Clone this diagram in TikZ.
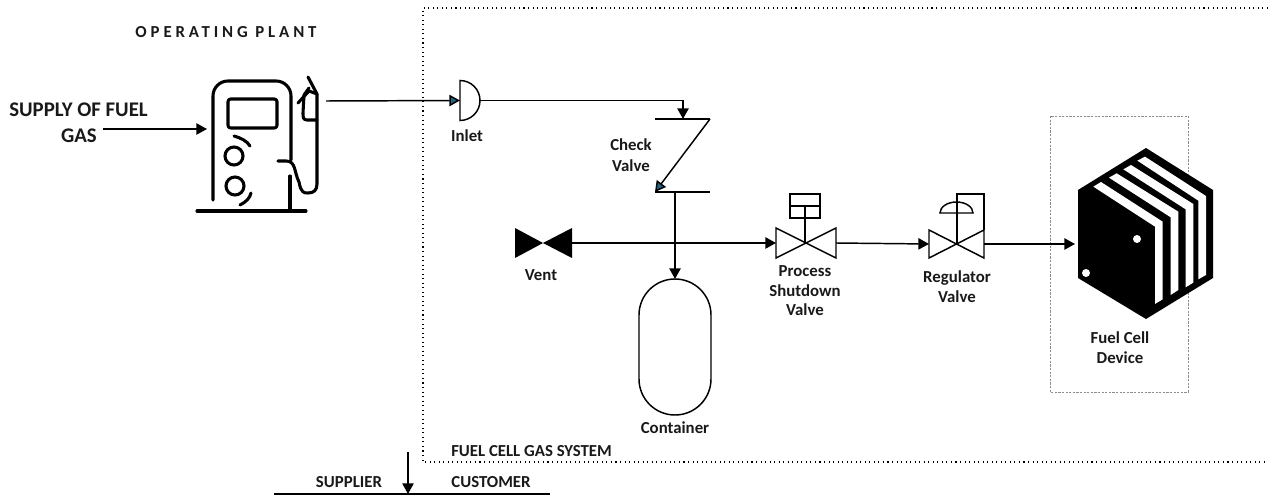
\documentclass[tikz,border=0pt]{standalone}
\usepackage{fontspec}
\setmainfont{Carlito}
\usetikzlibrary{arrows.meta}
\definecolor{tipblue}{RGB}{31,100,135}
\tikzset{
  x=0.75pt,y=-0.75pt,
  lbl/.style={font=\bfseries\fontsize{12.6}{14}\selectfont,inner sep=0pt,text=black!90},
  biglbl/.style={font=\bfseries\fontsize{15.6}{18}\selectfont,inner sep=0pt,text=black!90},
  pipe/.style={draw=black,line width=1.1pt},
  flow/.style={pipe,-{Triangle[length=8pt,width=8.5pt]}},
  blueflow/.style={pipe,-{Triangle[length=8pt,width=8.5pt,fill=tipblue]}},
  sym/.style={draw=black,line width=1.1pt,line join=miter},
  pump/.style={draw=black,line width=2.3pt,line cap=round,line join=round},
  dots/.style={draw=black,line width=.8pt,dash pattern=on .8pt off 2.6pt},
}
\begin{document}
\begin{tikzpicture}
\useasboundingbox (0,0) rectangle (1268,495);
% system boundary
\draw[dots] (1268,8) -- (423,8) -- (423,462) -- (1268,462);
\draw[draw=black!45,line width=.7pt,dash pattern=on 1.6pt off 1.1pt] (1050,116) rectangle (1188,392);
% pump
\draw[pump] (213,200) -- (213,96) arc[start angle=180,end angle=270,radius=15] -- (276,81) arc[start angle=270,end angle=360,radius=15] -- (291,160);
\draw[pump,rounded corners=2pt] (228,99) rectangle (277,128);
\draw[pump] (234,156) circle[radius=9];
\draw[pump] (235,186) circle[radius=9];
\draw[pump] (234,136) .. controls (241,138) and (247,141) .. (250,146);
\draw[pump] (240,205) .. controls (246,202) and (250,198) .. (251,193);
\draw[pump] (197,211) -- (306,211);
\draw[pump] (290,176) -- (290,211);
\draw[pump] (278,161) -- (286,161) .. controls (296,161) and (294,172) .. (299,182) .. controls (301,193) and (304,193) .. (308,193) .. controls (314,193) and (317,190) .. (317,184) -- (317,94) -- (308,77);
\draw[pump] (317,120) -- (307,120) .. controls (303,120) and (303,117) .. (303,113) -- (304,95) -- (309,88) ;
\draw[pump] (298,103) -- (309,91) -- (317,94);
% fuel cell stack
\fill[black] (1146,148) -- (1213,190) -- (1213,278) -- (1146,319) -- (1078,278) -- (1078,190) -- cycle;
\begin{scope}[shift={(1040,130)},x=0.25pt,y=-0.25pt]
\fill[white] (160,170) -- (183,156) -- (368,275) -- (368,508) -- (345,522) -- (345,290) -- cycle;
\fill[white] (207,143) -- (230,130) -- (415,245) -- (415,480) -- (392,495) -- (392,262) -- cycle;
\fill[white] (250,118) -- (273,105) -- (460,222) -- (460,458) -- (437,472) -- (437,238) -- cycle;
\fill[white] (292,92) -- (315,80) -- (498,198) -- (498,435) -- (475,448) -- (475,212) -- cycle;
\end{scope}
\fill[white] (1137,239) circle[radius=4];
\fill[white] (1086,273) circle[radius=4];
\coordinate (stack) at (1075,244);
% inlet
\draw[sym] (460,80.5) arc[start angle=-90,end angle=90,radius=20] -- cycle;
\coordinate (inletW) at (460,100.5);
\coordinate (inletE) at (480,100.5);
\coordinate (pumpout) at (326,101);
% check valve
\draw[sym] (655,119) -- (710,119);
\draw[sym] (655,192) -- (710,192);
\coordinate (chkin) at (683,119);
\coordinate (chkdiagA) at (710,119);
\coordinate (chkdiagB) at (655,192);
\coordinate (chkout) at (675,192);
% vent
\fill[black] (515,228) -- (543,243) -- (572,228) -- (572,258) -- (543,243) -- (515,258) -- cycle;
\coordinate (ventE) at (572,243);
% process valve
\draw[sym] (776,228) -- (836,258) -- (836,228) -- (776,258) -- cycle;
\draw[sym] (790,194) rectangle (820,218);
\draw[sym] (790,206) -- (820,206);
\draw[sym] (805,206) -- (805,243);
\coordinate (pW) at (776,243);
\coordinate (pE) at (836,243);
% regulator valve
\draw[sym] (929,230) -- (984,258) -- (984,230) -- (929,258) -- cycle;
\draw[sym] (940,213) arc[start angle=180,end angle=360,x radius=16.5,y radius=11] -- cycle;
\draw[sym] (957,244) -- (957,202);
\draw[sym] (957,202) -- (957,194) -- (984,194) -- (984,230);
\coordinate (rW) at (929,244);
\coordinate (rE) at (984,244);
% container
\draw[sym] (639,315) arc[start angle=180,end angle=360,radius=36] -- (711,379) arc[start angle=0,end angle=180,radius=36] -- cycle;
\coordinate (contN) at (675,279);
% feed arrow
\coordinate (fa) at (103,129);
\coordinate (fb) at (207,129);
\coordinate (turn) at (683,100.5);
% connectors
\draw[flow] (fa) -- (fb);
\draw[blueflow] (pumpout) -- (inletW);
\draw[flow] (inletE) -- (turn) -- (chkin);
\draw[blueflow] (chkdiagA) -- (chkdiagB);
\draw[flow] (chkout) -- (contN);
\draw[flow] (ventE) -- (pW);
\draw[flow] (pE) -- (rW);
\draw[flow] (rE) -- (stack);
% demarcation
\coordinate (dl) at (274,494);
\coordinate (dr) at (550,494);
\coordinate (dt) at (408,452);
\coordinate (db) at (408,494);
\draw[draw=black,line width=.8pt] (dl) -- (dr);
\draw[flow] (dt) -- (db);
% labels
\node[lbl] (op) at (226,32) {\addfontfeatures{LetterSpace=23}OPERATING PLANT};
\node[biglbl,anchor=east] (sup1) at (148,110) {SUPPLY OF FUEL};
\node[biglbl,anchor=east] (sup2) at (97,136) {GAS};
\node[lbl] (inl) at (467,136) {Inlet};
\node[lbl] (chk1) at (631,145) {Check};
\node[lbl] (chk2) at (631,166) {Valve};
\node[lbl] (vt) at (541,275) {Vent};
\node[lbl] (pr1) at (805,271) {Process};
\node[lbl] (pr2) at (805,290.5) {Shutdown};
\node[lbl] (pr3) at (805,310) {Valve};
\node[lbl] (rg1) at (957,278) {Regulator};
\node[lbl] (rg2) at (957,297) {Valve};
\node[lbl] (ct) at (675,428) {Container};
\node[lbl] (fc1) at (1120,338) {Fuel Cell};
\node[lbl] (fc2) at (1120,358) {Device};
\node[lbl,anchor=west] (sys) at (451,451) {FUEL CELL GAS SYSTEM};
\node[lbl] (spl) at (349,482) {SUPPLIER};
\node[lbl] (cus) at (491,482) {CUSTOMER};
\end{tikzpicture}
\end{document}
